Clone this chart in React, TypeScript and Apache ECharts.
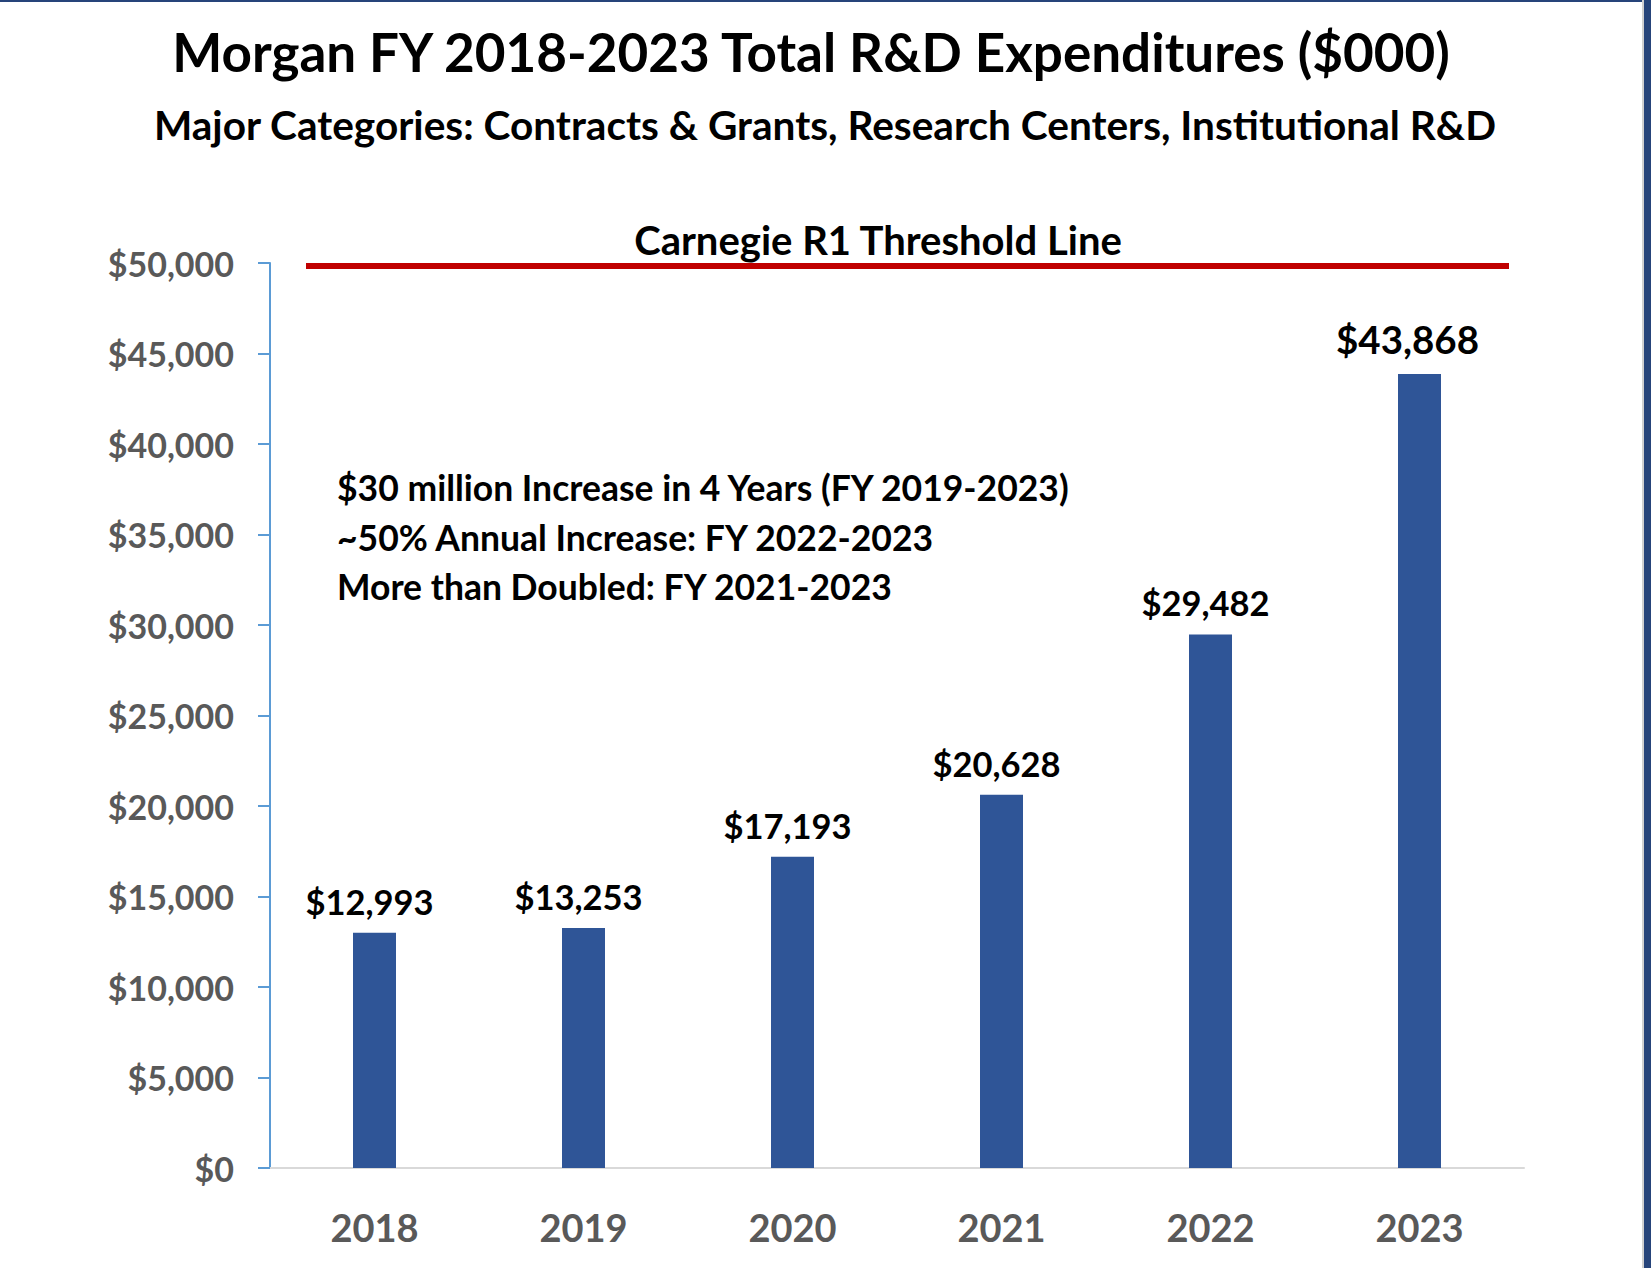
import React, { useEffect, useRef } from "react";
import * as echarts from "echarts";

const years = ["2018", "2019", "2020", "2021", "2022", "2023"];
const expenditures = [12993, 13253, 17193, 20628, 29482, 43868];
const threshold = 49850;
const yMin = 0;
const yMax = 50000;
const yInterval = 5000;
const titleText = "Morgan FY 2018-2023 Total R&D Expenditures ($000)";
const subtitleText = "Major Categories: Contracts & Grants, Research Centers, Institutional R&D";
const thresholdLabel = "Carnegie R1 Threshold Line";
const notes = [
  "$30 million Increase in 4 Years (FY 2019-2023)",
  "~50% Annual Increase: FY 2022-2023",
  "More than Doubled: FY 2021-2023",
];

const FONT = "Lato, 'Open Sans', sans-serif";
const fmt = (v: number) => "$" + v.toLocaleString("en-US");

export default function App() {
  const ref = useRef<HTMLDivElement>(null);
  useEffect(() => {
    if (!ref.current) return;
    const chart = echarts.init(ref.current, null, { renderer: "svg" });
    const lastIdx = expenditures.length - 1;
    chart.setOption({
      animation: false,
      backgroundColor: "#ffffff",
      grid: { left: 270, right: 127, top: 263, bottom: 100, outerBoundsMode: "none" },
      xAxis: {
        type: "category",
        data: years,
        axisLine: { show: true, lineStyle: { color: "#D9D9D9", width: 2 } },
        axisTick: { show: false },
        axisLabel: { color: "#595959", fontFamily: FONT, fontWeight: "bold", fontSize: 38, margin: 40 },
      },
      yAxis: {
        type: "value",
        min: yMin,
        max: yMax,
        interval: yInterval,
        splitLine: { show: false },
        axisLine: { show: true, lineStyle: { color: "#5B9BD5", width: 2 } },
        axisTick: { show: true, length: 12, lineStyle: { color: "#5B9BD5", width: 2 } },
        axisLabel: {
          color: "#595959",
          fontFamily: FONT,
          fontWeight: "bold",
          fontSize: 34,
          margin: 36,
          formatter: (v: number) => fmt(v),
        },
      },
      series: [
        {
          type: "bar",
          data: expenditures.map((v, i) =>
            i === lastIdx
              ? { value: v, label: { fontSize: 38.5, distance: 15, offset: [-12, 0] } }
              : v
          ),
          barWidth: 43,
          itemStyle: { color: "#2F5597" },
          label: {
            show: true,
            position: "top",
            distance: 14,
            offset: [-5, 0],
            color: "#000000",
            fontFamily: FONT,
            fontWeight: "bold",
            fontSize: 34.5,
            formatter: (p: any) => fmt(p.value),
          },
          markLine: {
            silent: true,
            symbol: ["none", "none"],
            label: { show: false },
            lineStyle: { color: "#C00000", width: 6, type: "solid" },
            data: [[{ x: 306, yAxis: threshold }, { x: 1509, yAxis: threshold }]],
          },
        },
      ],
      graphic: [
        { type: "rect", shape: { x: 0, y: 0, width: 1651, height: 2 }, style: { fill: "#26447A" } },
        { type: "rect", shape: { x: 1642, y: 0, width: 2, height: 1268 }, style: { fill: "#D0D0D0" } },
        { type: "rect", shape: { x: 1644, y: 0, width: 7, height: 1268 }, style: { fill: "#26447A" } },
        {
          type: "text",
          x: 811,
          y: 51,
          style: { text: titleText, fontFamily: FONT, fontWeight: "bold", fontSize: 53, fill: "#000", textAlign: "center", textVerticalAlign: "middle" },
        },
        {
          type: "text",
          x: 825,
          y: 124,
          style: { text: subtitleText, fontFamily: FONT, fontWeight: "bold", fontSize: 40.6, fill: "#000", textAlign: "center", textVerticalAlign: "middle" },
        },
        {
          type: "text",
          x: 878,
          y: 240,
          style: { text: thresholdLabel, fontFamily: FONT, fontWeight: "bold", fontSize: 40, fill: "#000", textAlign: "center", textVerticalAlign: "middle" },
        },
        ...notes.map((t, i) => ({
          type: "text",
          x: 337,
          y: 487.5 + i * 49.5,
          style: { text: t, fontFamily: FONT, fontWeight: "bold", fontSize: 35.5, fill: "#000", textAlign: "left", textVerticalAlign: "middle" },
        })),
      ],
    });
    return () => chart.dispose();
  }, []);
  return (
    <div
      ref={ref}
      style={{ position: "absolute", left: 0, top: 0, width: 1651, height: 1268 }}
    />
  );
}
